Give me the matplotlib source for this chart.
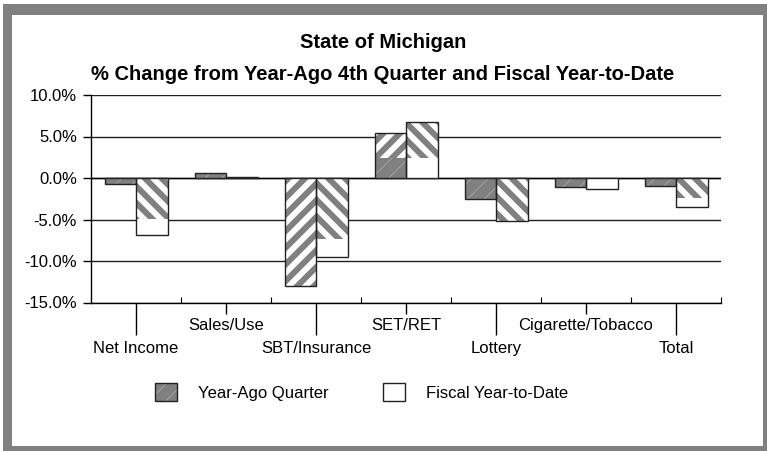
import matplotlib
matplotlib.use("Agg")
import numpy as np
import matplotlib.pyplot as plt
from matplotlib.patches import Rectangle, Patch
from matplotlib.ticker import FuncFormatter

plt.rcParams['font.family'] = ['Liberation Sans', 'DejaVu Sans']

categories = ["Net Income", "Sales/Use", "SBT/Insurance", "SET/RET",
              "Lottery", "Cigarette/Tobacco", "Total"]
year_ago_qtr = [-0.7, 0.6, -13.0, 5.4, -2.5, -1.1, -1.0]
fiscal_ytd = [-6.9, 0.1, -9.5, 6.8, -5.2, -1.3, -3.5]

# the broad diagonal stripes seen on some bars in the original (rendering artefact)
yaq_stripe_from = [0.0, 0.0, 0.0, 2.4, 0.0, 0.0, 0.0]
yaq_stripe_to = [0.0, 0.0, -13.0, 5.4, 0.0, 0.0, 0.0]
ytd_stripe_from = [0.0, 0.0, 0.0, 2.45, 0.0, 0.0, 0.0]
ytd_stripe_to = [-4.9, 0.0, -7.4, 6.8, -5.2, 0.0, -2.4]

W, H = 767, 451
fig = plt.figure(figsize=(W / 100, H / 100), dpi=100)

# grey frame
def px_rect(x0, y0, x1, y1, z, **kw):
    fig.patches.append(Rectangle((x0 / W, 1 - y1 / H), (x1 - x0) / W, (y1 - y0) / H,
                                 transform=fig.transFigure, zorder=z, **kw))

px_rect(3, 4, 767, 451, -2, facecolor='#808080', edgecolor='none')
px_rect(12, 15, 763, 446, -1, facecolor='white', edgecolor='none')

left, right, top, bottom = 91, 721, 95, 302.5
ax = fig.add_axes([left / W, 1 - bottom / H, (right - left) / W, (bottom - top) / H])
ax.set_facecolor('none')
ax.set_zorder(2)

x = np.arange(len(categories))
bw = 0.35
GREY = '#808080'

def stripe_kw(hatch):
    return dict(color='white', edgecolor=GREY, hatch=hatch, linewidth=0, zorder=3)

plt.rcParams['hatch.linewidth'] = 0.6
ax.bar(x - bw / 2, year_ago_qtr, bw, color=GREY, edgecolor='#a8a8a8', hatch='//',
       linewidth=0, zorder=2)
ax.bar(x + bw / 2, fiscal_ytd, bw, color='white', linewidth=0, zorder=2)

plt.rcParams['hatch.linewidth'] = 4.3
s1 = ax.bar(x - bw / 2, np.subtract(yaq_stripe_to, yaq_stripe_from), bw,
            bottom=yaq_stripe_from, **stripe_kw('//'))
s2 = ax.bar(x + bw / 2, np.subtract(ytd_stripe_to, ytd_stripe_from), bw,
            bottom=ytd_stripe_from, **stripe_kw('\\\\'))
for p in list(s1) + list(s2):
    if hasattr(p, 'set_hatch_linewidth'):
        p.set_hatch_linewidth(4.3)
plt.rcParams['hatch.linewidth'] = 0.6

ax.bar(x - bw / 2, year_ago_qtr, bw, fill=False, edgecolor='#222222', linewidth=1, zorder=4)
ax.bar(x + bw / 2, fiscal_ytd, bw, fill=False, edgecolor='#222222', linewidth=1, zorder=4)

ax.set_xlim(-0.5, len(categories) - 0.5)
ax.set_ylim(-15, 10)
ax.set_yticks(np.arange(-15, 10.1, 5))
ax.yaxis.set_major_formatter(FuncFormatter(lambda v, p: f"{v:.1f}%"))
ax.yaxis.grid(True, color='#202020', linewidth=1)
ax.set_axisbelow(True)
for s in ['top', 'right']:
    ax.spines[s].set_visible(False)
ax.spines['left'].set_linewidth(1)
ax.spines['bottom'].set_linewidth(1)
ax.axhline(0, color='black', linewidth=1, zorder=1)

ax.tick_params(axis='y', length=6, width=1, labelsize=12, pad=4)
ax.set_xticks(x)
ax.set_xticklabels(categories, fontsize=12)
ax.set_xticks(x + 0.5, minor=True)
ax.tick_params(axis='x', which='minor', length=4, direction='in', width=0.8)
for i, t in enumerate(ax.xaxis.get_major_ticks()):
    if i % 2 == 0:
        t._apply_params(size=23, width=1, pad=5)
    else:
        t._apply_params(size=8, width=1, pad=3)

fig.text(383 / W, 1 - 43 / H, "State of Michigan", ha='center', va='center',
         fontsize=14.5, fontweight='bold')
fig.text(383 / W, 1 - 74 / H, "% Change from Year-Ago 4th Quarter and Fiscal Year-to-Date",
         ha='center', va='center', fontsize=14.5, fontweight='bold')

yaq_handle = (Patch(facecolor=GREY, edgecolor='#a8a8a8', hatch='//', linewidth=0),
              Patch(fill=False, edgecolor='#222222', linewidth=1))
ytd_handle = Patch(facecolor='white', edgecolor='#222222', linewidth=1)
fig.legend([yaq_handle, ytd_handle], ["Year-Ago Quarter", "Fiscal Year-to-Date"], ncol=2,
           loc='center left', bbox_to_anchor=(155 / W, 1 - 392 / H), frameon=False,
           fontsize=12, handlelength=1.32, handleheight=1.26, handletextpad=1.26,
           columnspacing=3.25, borderpad=0, borderaxespad=0)

fig.savefig("out.png", dpi=100)
